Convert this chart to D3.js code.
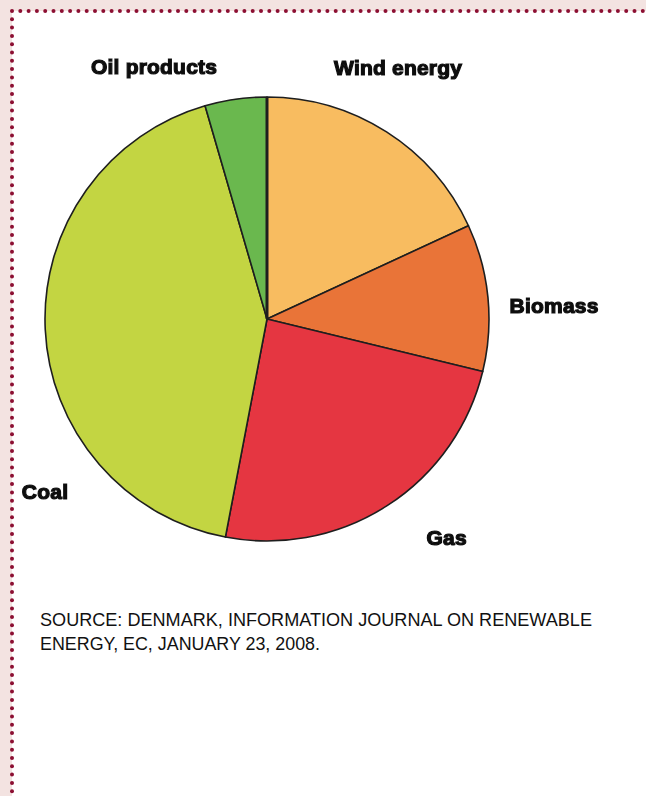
<!DOCTYPE html>
<html>
<head>
<meta charset="utf-8">
<script src="https://cdn.jsdelivr.net/npm/d3@7"></script>
<style>
  html, body { margin: 0; padding: 0; background: #fff; }
  svg { display: block; }
</style>
</head>
<body>
<svg id="chart" width="646" height="796"></svg>
<script>
// Electricity generation in Denmark by source (share of total, %)
const categories = ["Wind energy", "Biomass", "Gas", "Coal", "Oil products"];
const shares = [18.1, 10.7, 24.2, 42.5, 4.5];
const colors = ["#f8bc60", "#e97438", "#e53641", "#c3d542", "#6ab84e"];
// label placement: [angle in degrees clockwise from top, distance from centre, anchor]
const labelAngles = [27.5, 86.7, 140.6, 234.8, 348.8];
const labelRadii = [284, 243, 283, 300, 257];
const labelAnchors = ["middle", "start", "middle", "start", "end"];
const sourceLines = [
  "SOURCE: DENMARK, INFORMATION JOURNAL ON RENEWABLE",
  "ENERGY, EC, JANUARY 23, 2008."
];

const W = 646, H = 796;
const svg = d3.select("#chart");

// page frame: tinted margin with dotted rule
svg.append("rect").attr("width", W).attr("height", H).attr("fill", "#f3e3e1");
svg.append("rect").attr("x", 12).attr("y", 11).attr("width", W).attr("height", H).attr("fill", "#fff");
const dotStep = 8.3;
const topDots = d3.range(12, W + 4, dotStep);
const leftDots = d3.range(11, H + 4, dotStep);
svg.append("g").selectAll("circle.t").data(topDots).join("circle")
  .attr("cx", d => d).attr("cy", 11).attr("r", 2).attr("fill", "#8c0f32");
svg.append("g").selectAll("circle.l").data(leftDots.slice(1)).join("circle")
  .attr("cx", 12).attr("cy", d => d).attr("r", 2).attr("fill", "#8c0f32");

// pie
const cx = 267, cy = 319, R = 222;
const pie = d3.pie().sort(null).value(d => d.v);
const data = categories.map((c, i) => ({ c, v: shares[i], col: colors[i] }));
const arcs = pie(data);
const arc = d3.arc().innerRadius(0).outerRadius(R);

const g = svg.append("g").attr("transform", `translate(${cx},${cy})`);
g.selectAll("path").data(arcs).join("path")
  .attr("d", arc)
  .attr("fill", d => d.data.col)
  .attr("stroke", "#1e1e1e")
  .attr("stroke-width", 1.6)
  .attr("stroke-linejoin", "round");

// heavier rule at the start of the first slice
const a0 = arcs[0].startAngle;
g.append("line")
  .attr("x1", 0).attr("y1", 0)
  .attr("x2", R * Math.sin(a0)).attr("y2", -R * Math.cos(a0))
  .attr("stroke", "#1e1e1e").attr("stroke-width", 3);

// soft edges on the slice labels
const defs = svg.append("defs");
defs.append("filter").attr("id", "soft")
  .append("feGaussianBlur").attr("stdDeviation", 0.5);

g.append("g").attr("filter", "url(#soft)")
  .selectAll("text").data(arcs).join("text")
  .attr("x", (d, i) => labelRadii[i] * Math.sin(labelAngles[i] * Math.PI / 180))
  .attr("y", (d, i) => -labelRadii[i] * Math.cos(labelAngles[i] * Math.PI / 180))
  .attr("text-anchor", (d, i) => labelAnchors[i])
  .attr("dominant-baseline", "central")
  .attr("font-family", "Liberation Sans, Arial, sans-serif")
  .attr("font-weight", "bold")
  .attr("font-size", 21)
  .attr("letter-spacing", 0.2)
  .attr("fill", "#111")
  .attr("stroke", "#111")
  .attr("stroke-width", 1.2)
  .text(d => d.data.c);

// source note
svg.append("g").selectAll("text").data(sourceLines).join("text")
  .attr("x", 40)
  .attr("y", (d, i) => 626 + i * 24)
  .attr("font-family", "Liberation Sans, Arial, sans-serif")
  .attr("font-size", 17.5)
  .attr("fill", "#111")
  .attr("textLength", (d, i) => i === 0 ? 552 : 280)
  .attr("lengthAdjust", "spacingAndGlyphs")
  .text(d => d);
</script>
</body>
</html>
